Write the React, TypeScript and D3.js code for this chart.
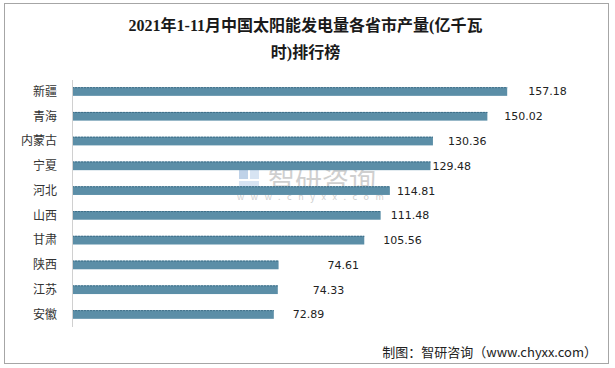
import React from "react";
import * as d3 from "d3";

const provinces = ["新疆", "青海", "内蒙古", "宁夏", "河北", "山西", "甘肃", "陕西", "江苏", "安徽"];
const output = [157.18, 150.02, 130.36, 129.48, 114.81, 111.48, 105.56, 74.61, 74.33, 72.89];
const titleLines = ["2021年1-11月中国太阳能发电量各省市产量(亿千瓦", "时)排行榜"];
const sourceNote = "制图：智研咨询（www.chyxx.com）";

// the data labels in the original sit at uneven gaps from the bar ends
const labelGap = [21, 17, 15, 2, 7, 10, 19, 49, 35, 19];

const W = 615;
const H = 368;
const margin = { top: 79, bottom: 41, left: 72 };

export default function App() {
  const x = d3.scaleLinear().domain([0, 160]).range([margin.left, margin.left + 443]);
  const y = d3
    .scaleBand<string>()
    .domain(provinces)
    .range([margin.top, H - margin.bottom])
    .paddingInner(0.65)
    .paddingOuter(0.33);

  const bh = y.bandwidth();
  const cjk = "'Noto Sans CJK SC', 'Noto Sans', sans-serif";

  return (
    <svg width={W} height={H} style={{ position: "absolute", left: 0, top: 0, background: "#fff" }}>
      <rect x={4.5} y={3.5} width={604} height={360} fill="#fff" stroke="#a6a6a6" />

      {titleLines.map((t, i) => (
        <text
          key={i}
          x={W / 2 - 2}
          y={31 + i * 27}
          textAnchor="middle"
          fontSize={16}
          fontWeight={700}
          fill="#1a1a1a"
          fontFamily="'Liberation Serif', 'Noto Sans CJK SC', serif"
        >
          {t}
        </text>
      ))}

      {/* watermark */}
      <g opacity={0.35}>
        <rect x={239} y={170} width={9} height={9} fill="#4a7fc0" />
        <rect x={250} y={170} width={9} height={9} fill="#8fb4dd" />
        <rect x={239} y={181} width={20} height={8} fill="#8fb4dd" />
        <text x={268} y={190} fontSize={27} fill="#777" fontFamily={cjk}>
          智研咨询
        </text>
        <text x={237} y={200} fontSize={9} fill="#777" letterSpacing={6.6} fontFamily={cjk}>
          www.chyxx.com
        </text>
      </g>

      {provinces.map((p, i) => {
        const yy = y(p) as number;
        const xe = x(output[i]);
        return (
          <g key={p}>
            <rect x={margin.left} y={yy} width={xe - margin.left} height={bh} fill="#5b8ea7" />
            <line
              x1={margin.left}
              x2={xe}
              y1={yy + 0.5}
              y2={yy + 0.5}
              stroke="#3f6f88"
              strokeWidth={1}
              strokeDasharray="2,1"
            />
            <text
              x={57}
              y={yy + bh / 2}
              dy="0.36em"
              textAnchor="end"
              fontSize={12}
              fill="#333"
              fontFamily={cjk}
            >
              {p}
            </text>
            <text
              x={xe + labelGap[i]}
              y={yy + bh / 2}
              dy="0.36em"
              fontSize={11}
              fill="#222"
              fontFamily="'DejaVu Sans', sans-serif"
            >
              {output[i].toFixed(2)}
            </text>
          </g>
        );
      })}

      <line x1={margin.left + 0.5} x2={margin.left + 0.5} y1={80} y2={327} stroke="#d0d0d0" />

      <text
        x={597}
        y={357}
        textAnchor="end"
        fontSize={13}
        fill="#222"
        fontFamily="'Noto Sans CJK SC', 'Liberation Mono', monospace"
      >
        {sourceNote}
      </text>
    </svg>
  );
}
